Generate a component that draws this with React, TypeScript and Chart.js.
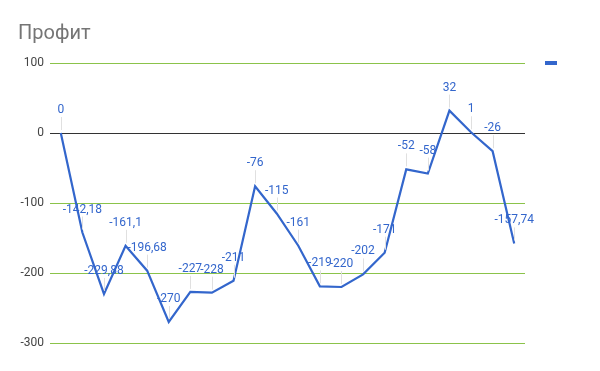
import React, { useEffect, useRef } from "react";
import { Chart, registerables } from "chart.js";

Chart.register(...registerables);

const categories = Array.from({ length: 22 }, (_, i) => String(i + 1));
const profit = [0, -142.18, -229.88, -161.1, -196.68, -270, -227, -228, -211, -76, -115, -161, -219, -220, -202, -171, -52, -58, 32, 1, -26, -157.74];
const yTicks = [100, 0, -100, -200, -300];
const title = "Профит";

const BLUE = "#3366cc";
const GREEN = "#8bc34a";

const fmt = (v: number) => String(v).replace(".", ",");

const overlay = {
  id: "overlay",
  beforeDatasetsDraw(chart: any) {
    const ctx = chart.ctx;
    const ys = chart.scales.y;
    ctx.save();
    ctx.lineWidth = 1;
    yTicks.forEach((v) => {
      const yy = Math.round(ys.getPixelForValue(v)) + 0.5;
      ctx.strokeStyle = v === 0 ? "#333333" : GREEN;
      ctx.beginPath();
      ctx.moveTo(chart.chartArea.left, yy);
      ctx.lineTo(chart.chartArea.right, yy);
      ctx.stroke();
    });
    ctx.restore();
  },
  afterDatasetsDraw(chart: any) {
    const ctx = chart.ctx;
    const meta = chart.getDatasetMeta(0);
    ctx.save();
    ctx.font = "12px Roboto, Arial, sans-serif";
    ctx.textAlign = "center";
    ctx.textBaseline = "middle";
    meta.data.forEach((pt: any, i: number) => {
      const x = pt.x;
      const y = pt.y;
      ctx.strokeStyle = "#e0e0e0";
      ctx.lineWidth = 1;
      ctx.beginPath();
      ctx.moveTo(Math.round(x) + 0.5, y - 16);
      ctx.lineTo(Math.round(x) + 0.5, y - 3);
      ctx.stroke();
      ctx.fillStyle = BLUE;
      ctx.fillText(fmt(profit[i]), x, y - 23);
    });
    ctx.textAlign = "left";
    ctx.textBaseline = "alphabetic";
    ctx.font = "20px Roboto, Arial, sans-serif";
    ctx.fillStyle = "#757575";
    ctx.fillText(title, 18, 39);
    ctx.fillStyle = BLUE;
    ctx.fillRect(545, 61, 12, 4);
    ctx.restore();
  },
};

export default function App() {
  const ref = useRef<HTMLCanvasElement>(null);
  useEffect(() => {
    document.body.style.margin = "0";
    const chart = new Chart(ref.current!, {
      type: "line",
      data: {
        labels: categories,
        datasets: [
          {
            data: profit,
            borderColor: BLUE,
            borderWidth: 2.2,
            pointRadius: 0,
            tension: 0,
            fill: false,
          },
        ],
      },
      options: {
        responsive: false,
        animation: false,
        layout: { padding: { top: 63, bottom: 28, right: 75, left: 0 } },
        plugins: { legend: { display: false }, tooltip: { enabled: false } },
        scales: {
          x: {
            offset: true,
            display: false,
          },
          y: {
            min: -300,
            max: 100,
            afterFit(scale: any) {
              scale.width = 50;
            },
            afterBuildTicks(scale: any) {
              scale.ticks = yTicks.map((v) => ({ value: v }));
            },
            border: { display: false },
            grid: {
              display: false,
              drawTicks: false,
            },
            ticks: {
              padding: 6,
              color: "#444444",
              font: { family: "Roboto, Arial, sans-serif", size: 12 },
            },
          },
        },
      },
      plugins: [overlay],
    });
    return () => chart.destroy();
  }, []);
  return <canvas ref={ref} width={600} height={371} style={{ display: "block" }} />;
}
